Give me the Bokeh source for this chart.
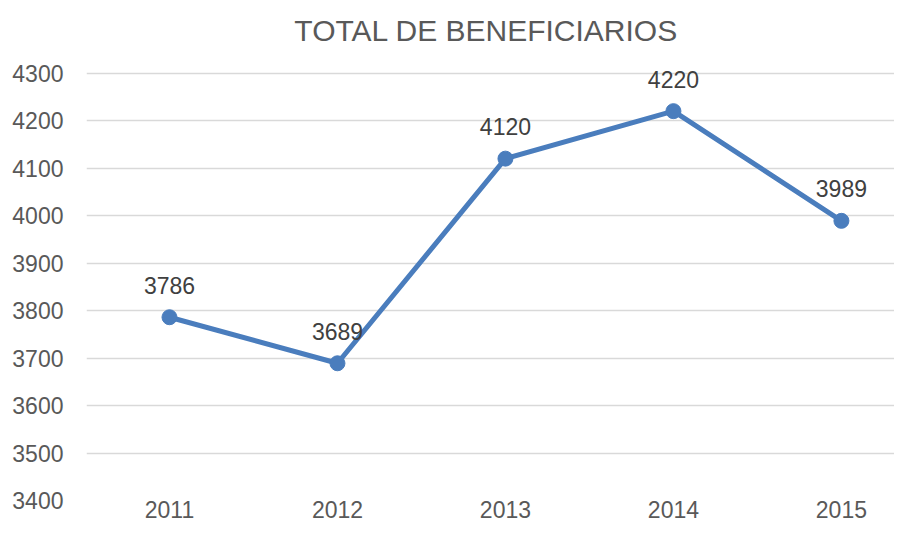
from bokeh.plotting import figure
from bokeh.models import Range1d, FixedTicker, ColumnDataSource, LabelSet
from bokeh.core.properties import value
from bokeh.embed import file_html
from bokeh.resources import INLINE

years = [2011, 2012, 2013, 2014, 2015]
beneficiarios = [3786, 3689, 4120, 4220, 3989]
y_ticks = [3400, 3500, 3600, 3700, 3800, 3900, 4000, 4100, 4200, 4300]
title_text = "TOTAL DE  BENEFICIARIOS"

src = ColumnDataSource(dict(x=years, y=beneficiarios, lab=[str(v) for v in beneficiarios]))

p = figure(width=894, height=527, output_backend="svg", toolbar_location=None,
           x_range=Range1d(2010.506, 2015.316), y_range=Range1d(3400, 4333),
           min_border_left=86, min_border_right=0, min_border_bottom=27, min_border_top=56)
p.outline_line_color = None
p.background_fill_color = "white"
p.border_fill_color = "white"

p.title.text = title_text
p.title.text_font = "Liberation Sans"
p.title.text_font_size = "30px"
p.title.text_font_style = "normal"
p.title.text_color = "#595959"
p.title.align = "center"
p.title.standoff = 22
p.title.offset = -11

line_color = "#4a7dbd"
p.line("x", "y", source=src, line_color=line_color, line_width=5)
p.scatter("x", "y", source=src, size=15, fill_color=line_color, line_color=line_color)

labels = LabelSet(x="x", y="y", text="lab", source=src, y_offset=32,
                  text_align="center", text_baseline="middle",
                  text_font=value("Liberation Sans"), text_font_size="23px", text_color="#404040")
p.add_layout(labels)

p.xaxis.ticker = FixedTicker(ticks=years)
p.yaxis.ticker = FixedTicker(ticks=y_ticks)
for ax in (p.xaxis, p.yaxis):
    ax.axis_line_color = None
    ax.major_tick_line_color = None
    ax.minor_tick_line_color = None
    ax.major_tick_out = 0
    ax.major_tick_in = 0
    ax.major_label_text_font = "Liberation Sans"
    ax.major_label_text_font_size = "23px"
    ax.major_label_text_color = "#595959"
p.xaxis.major_label_standoff = 0
p.yaxis.major_label_standoff = 23

p.xgrid.grid_line_color = None
p.ygrid.grid_line_color = "#d9d9d9"
p.ygrid.grid_line_width = 1.5

open("out.html", "w").write(file_html(p, INLINE))
